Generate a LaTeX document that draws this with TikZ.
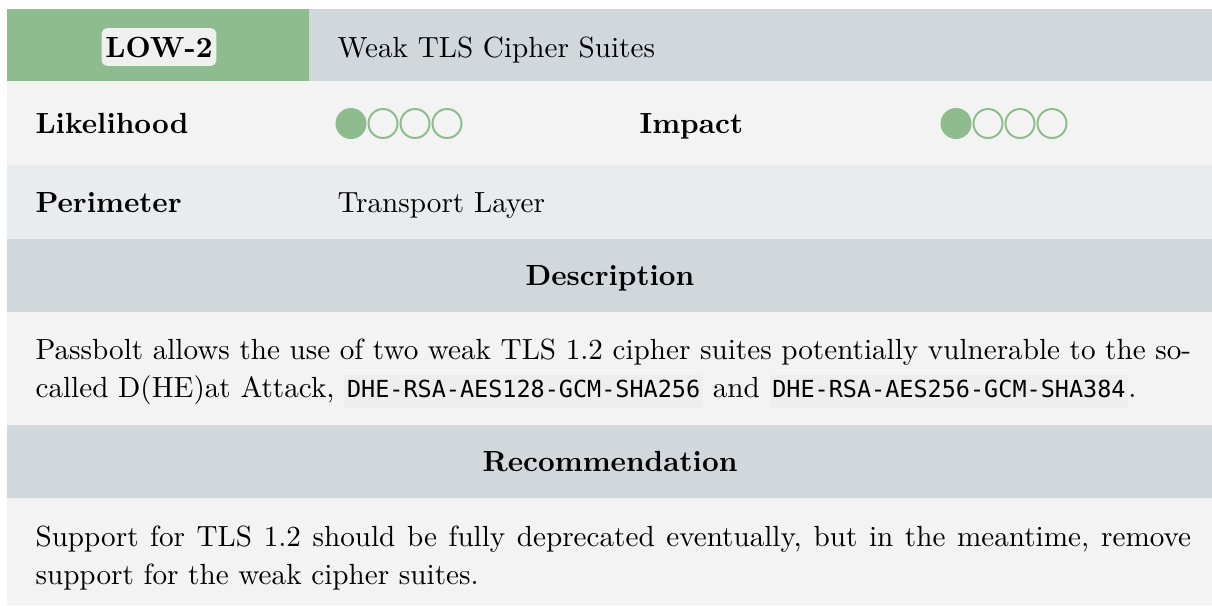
\documentclass[tikz,border=0pt]{standalone}
\usepackage{fontspec}
\setmonofont{DejaVu Sans Mono}
\definecolor{lowgreen}{HTML}{8FBC8F}
\definecolor{headgray}{HTML}{D0D8DB}
\definecolor{rowlight}{HTML}{F3F3F3}
\definecolor{rowblue}{HTML}{E9ECEE}
\definecolor{badgebg}{HTML}{F0F0F0}
\definecolor{codebg}{HTML}{EEEEEE}
\newcommand{\cipher}[1]{{\setlength{\fboxsep}{1pt}\colorbox{codebg}{\fontsize{8.45}{10}\selectfont\ttfamily\strut #1}}}
\begin{document}
\begin{tikzpicture}[x=0.36pt, y=-0.36pt, line cap=round, line join=round,
	font=\fontsize{10.5}{12.6}\selectfont,
	txt/.style={inner sep=0, anchor=base west},
	bold/.style={txt, font=\fontsize{10.5}{12.6}\selectfont\bfseries},
	para/.style={txt, text width=416pt, align=justify, font=\fontsize{10.5}{13.7}\selectfont}]
		\useasboundingbox (0,0) rectangle (1212,605);
		\fill[lowgreen] (7,9) rectangle (309,81);
		\fill[headgray] (309,9) rectangle (1212,81);
		\fill[rowlight] (7,81) rectangle (1212,165);
		\fill[rowblue] (7,165) rectangle (1212,239);
		\fill[headgray] (7,239) rectangle (1212,312) (7,425) rectangle (1212,498);
		\fill[rowlight] (7,312) rectangle (1212,425) (7,498) rectangle (1212,605);
		\node (sev) [fill=badgebg, rounded corners=2pt, font=\fontsize{10.5}{12.6}\selectfont\bfseries, inner xsep=1.4pt, inner ysep=3pt, text height=7.4pt, text depth=0.2pt, anchor=base] at (159,57) {LOW-2};
		\node (title) [txt] at (337,57) {Weak TLS Cipher Suites};
		\node (lik) [bold] at (35,133) {Likelihood};
		\node (imp) [bold] at (639,133) {Impact};
		\foreach \cx in {351,956} {
			\fill[lowgreen] (\cx,123.5) circle[radius=5.58pt];
			\foreach \k in {1,2,3} \draw[lowgreen, line width=0.72pt] (\cx+32*\k,123.5) circle[radius=5.22pt];
		}
		\node (peri) [bold] at (35,212) {Perimeter};
		\node (layer) [txt] at (337,212) {Transport Layer};
		\node (desc) [bold, anchor=base] at (610,285.5) {Description};
		\node (desctxt) [para] at (35,359) {Passbolt allows the use of two weak TLS 1.2 cipher suites potentially vulnerable to the so-\linebreak called D(HE)at Attack, \cipher{DHE-RSA-AES128-GCM-SHA256} and \cipher{DHE-RSA-AES256-GCM-SHA384}.};
		\node (reco) [bold, anchor=base] at (610,471.5) {Recommendation};
		\node (recotxt) [para] at (35,546) {Support for TLS 1.2 should be fully deprecated eventually, but in the meantime, remove\linebreak support for the weak cipher suites.};
\end{tikzpicture}
\end{document}
